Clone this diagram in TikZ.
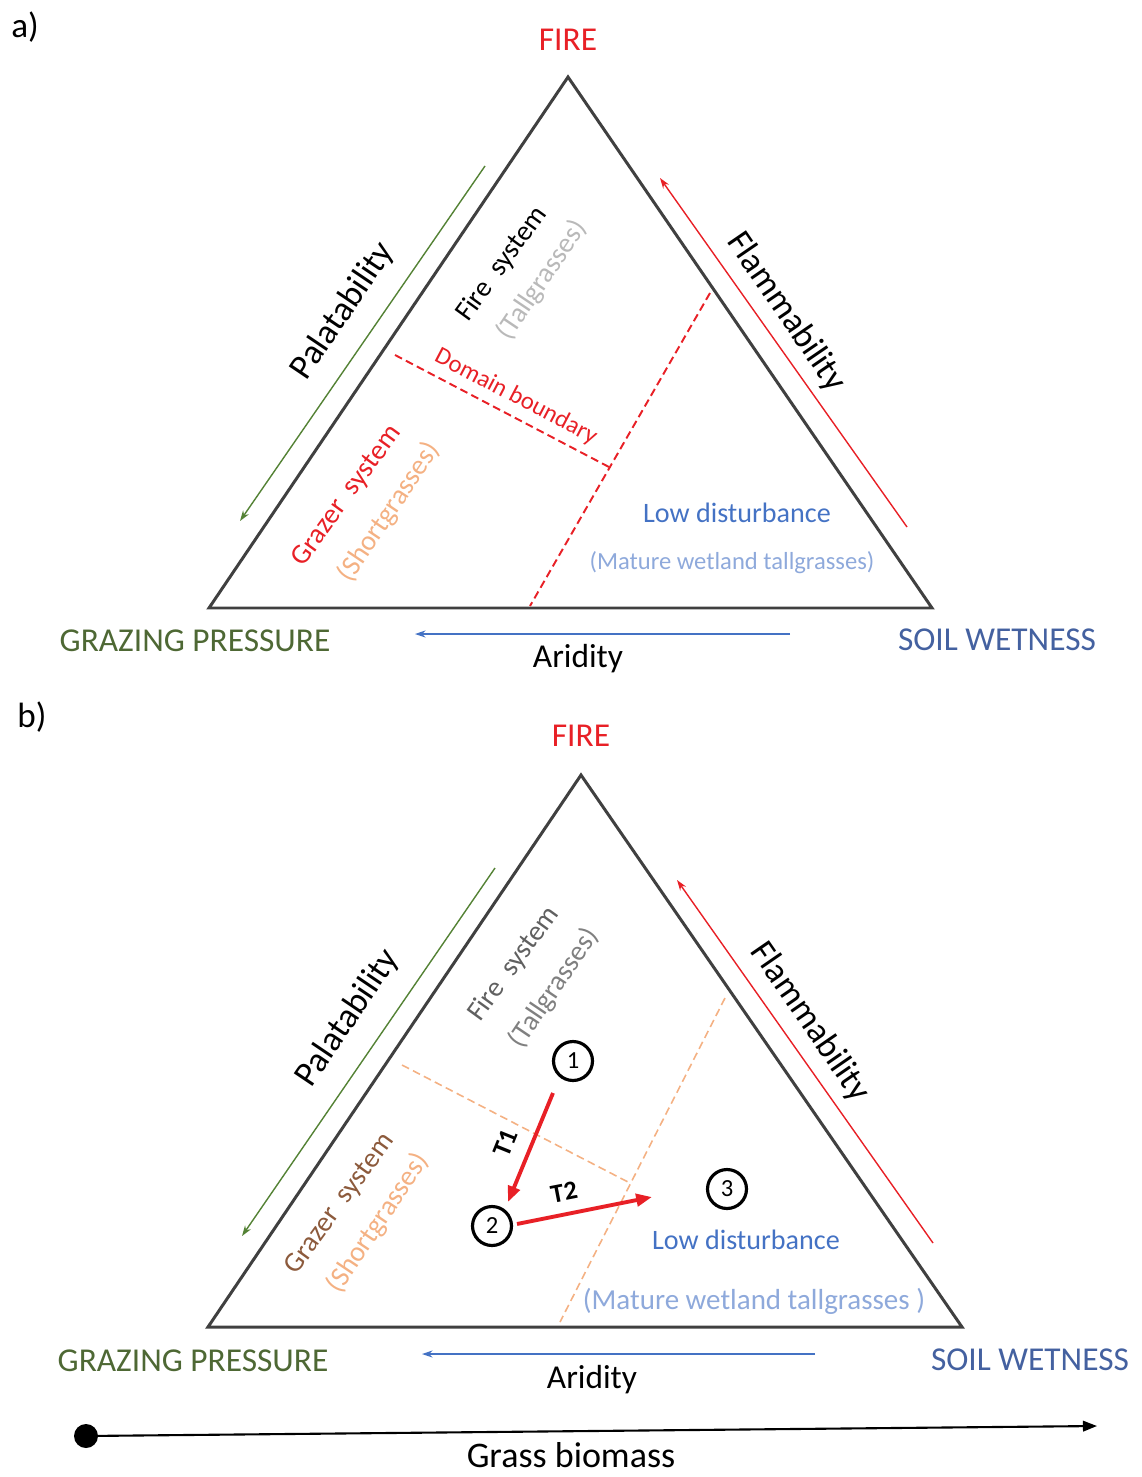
\documentclass[tikz,border=0pt]{standalone}
\usepackage{fontspec}
\setmainfont{Carlito}
\usetikzlibrary{arrows.meta}
\definecolor{firered}{RGB}{232,32,38}
\definecolor{grazgreen}{RGB}{84,130,53}
\definecolor{grazdark}{RGB}{78,104,52}
\definecolor{wetblue}{RGB}{68,97,160}
\definecolor{lowblue}{RGB}{68,114,196}
\definecolor{paleblue}{RGB}{142,169,219}
\definecolor{peach}{RGB}{244,177,131}
\definecolor{brownish}{RGB}{140,90,60}
\definecolor{edgegray}{RGB}{64,64,64}
\tikzset{
  edge/.style={draw=edgegray,line width=1.7pt,line join=miter},
  axisarrow/.style={line width=0.8pt,-{Stealth[length=6pt,width=4pt]}},
  jump/.style={line width=2.2pt,-{Triangle[length=9pt,width=7pt]}},
  corner/.style={font=\fontsize{19}{21}\selectfont},
  sidelabel/.style={font=\fontsize{20}{22}\selectfont},
  syslabel/.style={font=\fontsize{16}{18}\selectfont},
  state/.style={circle,draw,line width=1.8pt,minimum size=0.78cm,inner sep=0pt,font=\fontsize{14}{14}\selectfont}
}
\begin{document}
\begin{tikzpicture}[x=0.02cm,y=-0.02cm]
  \useasboundingbox (0,0) rectangle (1142,1477);

  % panel a
  \node[font=\fontsize{20}{22}\selectfont] (labA) at (25,27) {a)};
  \coordinate (topA) at (568,77);
  \coordinate (leftA) at (209,608);
  \coordinate (rightA) at (932,608);
  \draw[edge] (topA) -- (leftA) -- (rightA) -- cycle;
  \node[corner,firered] (fireA) at (568,40) {FIRE};
  \coordinate (palA1) at (485,166);
  \coordinate (palA2) at (240,521);
  \draw[axisarrow,grazgreen] (palA1) -- (palA2);
  \coordinate (flmA1) at (907,527);
  \coordinate (flmA2) at (660,178);
  \draw[axisarrow,firered] (flmA1) -- (flmA2);
  \coordinate (aridA1) at (790,634);
  \coordinate (aridA2) at (415,634);
  \draw[axisarrow,lowblue] (aridA1) -- (aridA2);
  \coordinate (bndA1) at (395,355);
  \coordinate (bndA2) at (609,467);
  \coordinate (bndA3) at (710,293);
  \coordinate (bndA4) at (530,606);
  \draw[firered,line width=1.1pt,dash pattern=on 4.5pt off 2.5pt] (bndA1) -- (bndA2);
  \draw[firered,line width=1.1pt,dash pattern=on 4.5pt off 2.5pt] (bndA3) -- (bndA4);
  \node[sidelabel,rotate=56] (palA) at (343,311) {Palatability};
  \node[sidelabel,rotate=-55.6] (flmA) at (786,312) {Flammability};
  \node[syslabel,rotate=54] (fsysA) at (502,264) {Fire\ \ system};
  \node[syslabel,rotate=56,gray!55] (tallA) at (542,280) {(Tallgrasses)};
  \node[font=\fontsize{14}{16}\selectfont,firered,rotate=-27.7] (domA) at (516,397) {Domain boundary};
  \node[syslabel,rotate=54,firered] (gsysA) at (347,496) {Grazer\ \ system};
  \node[syslabel,rotate=56,peach] (shortA) at (389,512) {(Shortgrasses)};
  \node[font=\fontsize{16}{18}\selectfont,lowblue] (lowA) at (737,513) {Low disturbance};
  \node[font=\fontsize{14}{16}\selectfont,paleblue] (matA) at (732,563) {(Mature wetland tallgrasses)};
  \node[corner,grazdark] (grzA) at (195,641) {GRAZING PRESSURE};
  \node[corner] (aridA) at (578,659) {Aridity};
  \node[corner,wetblue] (wetA) at (997,640) {SOIL WETNESS};

  % panel b
  \node[font=\fontsize{20}{22}\selectfont] (labB) at (32,717) {b)};
  \coordinate (topB) at (581,775);
  \coordinate (leftB) at (208,1327);
  \coordinate (rightB) at (962,1327);
  \draw[edge] (topB) -- (leftB) -- (rightB) -- cycle;
  \node[corner,firered] (fireB) at (581,736) {FIRE};
  \coordinate (palB1) at (495,868);
  \coordinate (palB2) at (242,1236);
  \draw[axisarrow,grazgreen] (palB1) -- (palB2);
  \coordinate (flmB1) at (933,1243);
  \coordinate (flmB2) at (677,880);
  \draw[axisarrow,firered] (flmB1) -- (flmB2);
  \coordinate (aridB1) at (815,1354);
  \coordinate (aridB2) at (422,1354);
  \draw[axisarrow,lowblue] (aridB1) -- (aridB2);
  \coordinate (bndB1) at (402,1065);
  \coordinate (bndB2) at (628,1182);
  \coordinate (bndB3) at (725,998);
  \coordinate (bndB4) at (560,1322);
  \draw[peach,line width=0.9pt,dash pattern=on 4.5pt off 2.5pt] (bndB1) -- (bndB2);
  \draw[peach,line width=0.9pt,dash pattern=on 4.5pt off 2.5pt] (bndB3) -- (bndB4);
  \node[sidelabel,rotate=56] (palB) at (348,1018) {Palatability};
  \node[sidelabel,rotate=-55.4] (flmB) at (810,1022) {Flammability};
  \node[syslabel,rotate=54,gray!75!black] (fsysB) at (514,964) {Fire\ \ system};
  \node[syslabel,rotate=56,gray] (tallB) at (554,988) {(Tallgrasses)};
  \node[syslabel,rotate=54,brownish] (gsysB) at (340,1204) {Grazer\ \ system};
  \node[syslabel,rotate=56,peach] (shortB) at (378,1223) {(Shortgrasses)};
  \node[state] (s1) at (573,1061) {1};
  \node[state] (s2) at (492,1226) {2};
  \node[state] (s3) at (727,1189) {3};
  \coordinate (t1a) at (553,1093);
  \coordinate (t1b) at (508,1202);
  \draw[jump,firered] (t1a) -- (t1b);
  \node[font=\bfseries\fontsize{15}{15}\selectfont,rotate=68] (t1) at (506,1143) {T1};
  \coordinate (t2a) at (517,1224);
  \coordinate (t2b) at (652,1197);
  \draw[jump,firered] (t2a) -- (t2b);
  \node[font=\bfseries\fontsize{15}{15}\selectfont,rotate=11] (t2) at (564,1192) {T2};
  \node[font=\fontsize{16}{18}\selectfont,lowblue] (lowB) at (746,1240) {Low disturbance};
  \node[font=\fontsize{16.5}{18}\selectfont,paleblue] (matB) at (754,1301) {(Mature wetland tallgrasses )};
  \node[corner,grazdark] (grzB) at (193,1361) {GRAZING PRESSURE};
  \node[corner] (aridB) at (592,1380) {Aridity};
  \node[corner,wetblue] (wetB) at (1030,1360) {SOIL WETNESS};

  % grass biomass axis
  \node[circle,fill,inner sep=0pt,minimum size=0.48cm] (dot) at (86,1436) {};
  \coordinate (bioEnd) at (1097,1426);
  \draw[line width=1.2pt,-{Triangle[length=8pt,width=6pt]}] (dot.center) -- (bioEnd);
  \node[font=\fontsize{20.5}{22}\selectfont] (bio) at (571,1455) {Grass biomass};
\end{tikzpicture}
\end{document}
